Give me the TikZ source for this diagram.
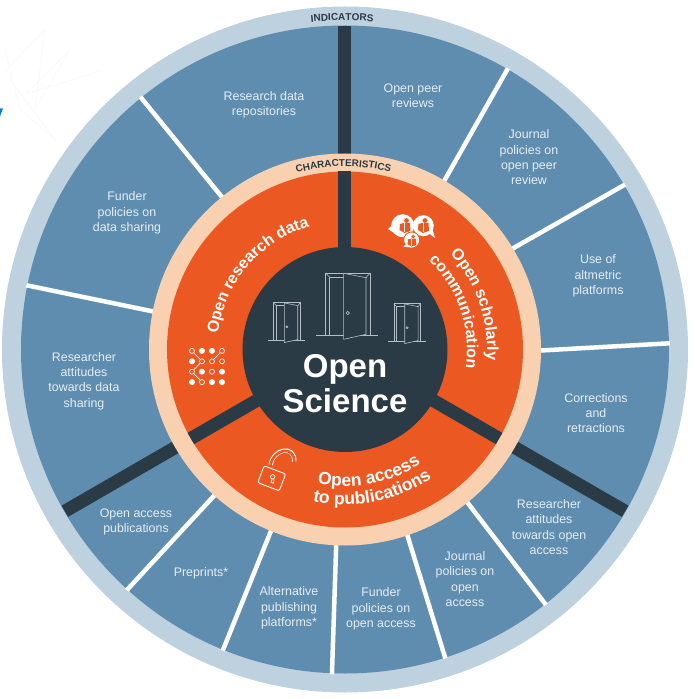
\documentclass[tikz,border=0pt]{standalone}
\usepackage{fontspec}
\setmainfont{Liberation Sans}
\usetikzlibrary{decorations.text}
\definecolor{ringlight}{HTML}{BDD1DF}
\definecolor{ringblue}{HTML}{5F8DAF}
\definecolor{hubdark}{HTML}{2B3B45}
\definecolor{segorange}{HTML}{EB5821}
\definecolor{ringpeach}{HTML}{F9D1B0}
\definecolor{labelwhite}{HTML}{E6EEF3}
\definecolor{doorgrey}{HTML}{B4BEC4}
\tikzset{
  indicator/.style={align=center,text=labelwhite,font=\fontsize{12.4}{15.3}\selectfont},
  spoke/.style={draw=hubdark,line width=13pt},
  divider/.style={draw=white,line width=4.5pt},
  arctext/.style={decorate,decoration={text along path,text align=center}},
  doorline/.style={draw=doorgrey,line width=.6pt},
  iconline/.style={draw=white,line width=.9pt}
}
\begin{document}
\begin{tikzpicture}[x=1pt,y=1pt]
  \useasboundingbox (-345,-349.5) rectangle (351,349.5);
  % stray marks left of the wheel
  \draw[color=black!2,line width=1pt] (-340,278) -- (-300,320) -- (-310,240) -- (-275,300) -- (-320,255) -- (-245,278.5);
  \draw[color=black!2,line width=1pt] (-335,270) -- (-290,210) -- (-325,240) -- (-340,300);
  \fill[color=cyan!60!blue] (-345,241) -- (-342,241) -- (-345,233) -- cycle;

  % rings
  \fill[color=ringlight] (0,0) circle(343pt);
  \fill[color=ringblue] (0,0) circle(324pt);
  \foreach \ang in {90,-30,210}
    \draw[spoke] (0,0) -- (\ang:323.5pt);
  \foreach \ain/\aout in {128.9/129,168.8/168.6,228.2/227.8,247.8/247.9,267.4/267.7,288.6/288,308.7/308.2,-0.4/1.1,31.1/30.5,59.5/59.9}
    \draw[divider] (\ain:190pt) -- (\aout:325pt);
  \fill[color=ringpeach] (0,0) circle(196pt);
  \fill[color=segorange] (0,0) circle(178pt);
  \foreach \ang in {90,-30,210}
    \draw[spoke] (0,0) -- (\ang:178pt);
  \node[circle,fill=hubdark,minimum size=205pt,inner sep=0pt] (hub) at (0,0) {};

  % ring captions
  \path[arctext,decoration={text={|\bfseries\fontsize{10}{10}\selectfont\color{hubdark}|INDICATORS}}] (101:329pt) arc (101:80:329pt);
  \path[arctext,decoration={text={|\bfseries\fontsize{9.9}{10}\selectfont\color{hubdark}|CHARACTERISTICS}}] (108:183pt) arc (108:73:183pt);
  % segment titles
  \path[arctext,decoration={text={|\bfseries\fontsize{16}{16}\selectfont\color{white}|Open research data}}] (182:128pt) arc (182:97:128pt);
  \path[arctext,decoration={text={|\bfseries\fontsize{16}{16}\selectfont\color{white}|Open scholarly}}] (55:142pt) arc (55:-17:142pt);
  \path[arctext,decoration={text={|\bfseries\fontsize{16}{16}\selectfont\color{white}|communication}}] (55:122pt) arc (55:-17:122pt);
  \path[arctext,decoration={text={|\bfseries\fontsize{17.5}{16}\selectfont\color{white}|Open access}}] (241:137pt) arc (241:321:137pt);
  \path[arctext,decoration={text={|\bfseries\fontsize{17.5}{16}\selectfont\color{white}|to publications}}] (241:155pt) arc (241:321:155pt);

  \node[align=center,text=white,font=\bfseries\fontsize{33}{35}\selectfont] (title) at (0,-34.5) {Open\\Science};

  % doors
  \foreach \dx/\dy/\s in {2.5/14.5/1,-58.3/9.5/.6,62/8.5/.6}{
    \begin{scope}[shift={(\dx,\dy)},scale=\s]
      \draw[doorline] (-31,0) -- (31,0);
      \draw[doorline] (-21.8,0) -- (-21.8,62) -- (22.5,62) -- (22.5,0);
      \draw[doorline] (-17.8,0) -- (-17.8,57.7) -- (-3.8,57.7);
      \draw[doorline] (-21.8,62) -- (-17.8,57.7);
      \draw[doorline] (22.5,62) -- (18.5,57.3);
      \draw[doorline,fill=hubdark] (-3.8,61.7) -- (18.5,57.3) -- (18.5,.7) -- (-3.8,-4.3) -- cycle;
      \draw[doorline] (.2,22) circle(1.7pt);
    \end{scope}
  }

  % data icon
  \foreach \col/\row/\kind in {1/1/0,2/1/1,3/1/1,4/1/0,1/2/1,2/2/0,3/2/0,4/2/0,1/3/0,2/3/1,3/3/0,4/3/1,1/4/1,2/4/0,3/4/1,4/4/1}{
    \ifnum\kind=1
      \node[circle,fill=white,inner sep=0pt,minimum size=6pt] (dot\col\row) at (-163+10*\col,9+-10.4*\row) {};
    \else
      \node[circle,draw=white,line width=.7pt,inner sep=0pt,minimum size=5pt] (dot\col\row) at (-163+10*\col,9+-10.4*\row) {};
    \fi
  }
  \draw[iconline,line width=.7pt] (dot11) -- (dot22);
  \draw[iconline,line width=.7pt] (dot41) -- (dot32);
  \draw[iconline,line width=.7pt] (dot13) -- (dot22);
  \draw[iconline,line width=.7pt] (dot13) -- (dot24);

  % speech bubbles
  \fill[color=white] (57.7,123.8) circle(11.5pt);
  \fill[color=white] (48,125) -- (43,120.5) -- (53,114) -- cycle;
  \fill[color=white] (78.3,123.8) circle(10.5pt);
  \fill[color=white] (84,116) -- (90,111.5) -- (87,122) -- cycle;
  \filldraw[fill=white,draw=segorange,line width=.8pt] (66.7,109.5) circle(8pt);
  \fill[color=white] (62,106) -- (58.3,102.8) -- (66,102) -- cycle;
  \foreach \cx/\cy/\s in {60/123.5/1,78.5/123.5/1,67/108.5/.8}{
    \begin{scope}[shift={(\cx,\cy)},scale=\s]
      \fill[color=segorange] (1.5,5.5) circle(2.4pt);
      \fill[color=segorange] (-5,2) -- (-1,3) -- (5,3) -- (5.5,-5) -- (-.5,-7) -- (-5.5,-4) -- cycle;
      \draw[color=white,line width=.5pt] (-.5,2.5) -- (-.5,-6);
    \end{scope}
  }

  % padlock
  \draw[color=white,line width=4.4pt] (-74.3,-115.5) .. controls (-72,-99) and (-50,-95) .. (-50.7,-112.2);
  \draw[color=segorange,line width=2.6pt] (-74.6,-116.5) .. controls (-72,-99) and (-50,-95) .. (-50.7,-113.2);
  \node[draw=white,fill=segorange,line width=.9pt,rotate=-21,minimum width=23pt,minimum height=18pt,inner sep=0pt,rounded corners=2pt] (lockbody) at (-73.3,-128.8) {};
  \draw[iconline,line width=.7pt] (-72.3,-127.3) circle(2.2pt);
  \draw[iconline,line width=.7pt] (-73,-129.5) -- (-74,-133) -- (-71.5,-133.8) -- (-71.1,-129.5);

  % indicator labels
  \node[indicator] (repositories) at (-81,245) {Research data\\repositories};
  \node[indicator] (peerreviews) at (68,253.5) {Open peer\\reviews};
  \node[indicator] (journalpeer) at (184,192) {Journal\\policies on\\open peer\\review};
  \node[indicator] (altmetric) at (253,73.5) {Use of\\altmetric\\platforms};
  \node[indicator] (corrections) at (251,-63.5) {Corrections\\and\\retractions};
  \node[indicator] (attitudesoa) at (204,-177.5) {Researcher\\attitudes\\towards open\\access};
  \node[indicator] (journaloa) at (120,-229.5) {Journal\\policies on\\open\\access};
  \node[indicator] (funderoa) at (36,-259.5) {Funder\\policies on\\open access};
  \node[indicator] (alternative) at (-56,-258.5) {Alternative\\publishing\\platforms*};
  \node[indicator] (preprints) at (-144,-223.5) {Preprints*};
  \node[indicator] (oapubs) at (-209,-172.5) {Open access\\publications};
  \node[indicator] (attitudesdata) at (-261,-31.5) {Researcher\\attitudes\\towards data\\sharing};
  \node[indicator] (funderdata) at (-218,136.5) {Funder\\policies on\\data sharing};
\end{tikzpicture}
\end{document}
